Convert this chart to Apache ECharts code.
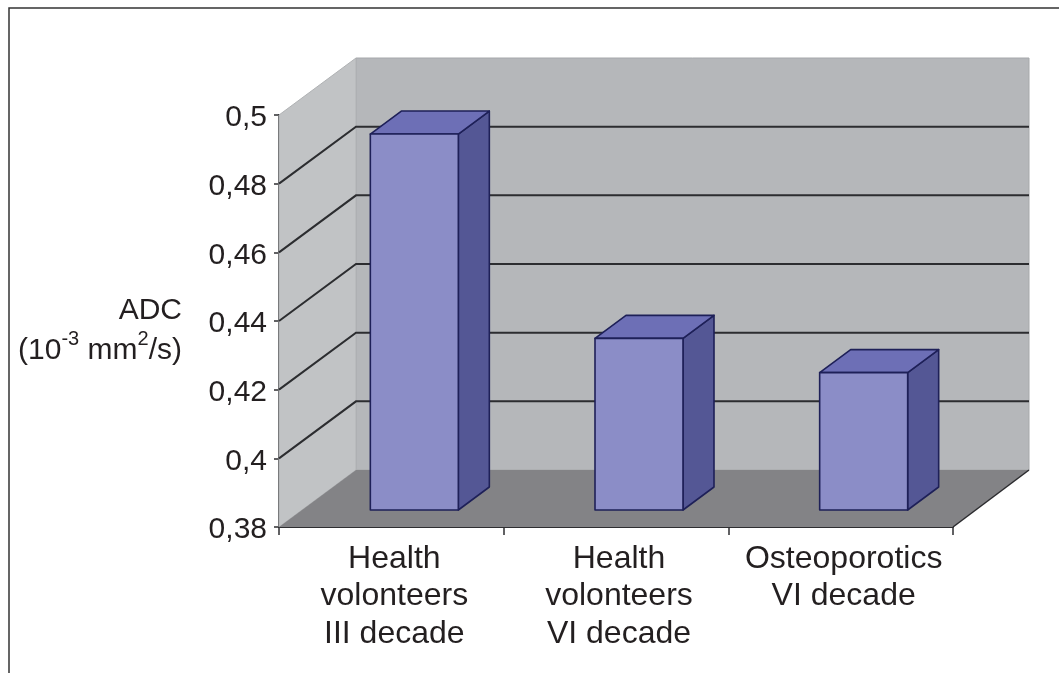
<!DOCTYPE html>
<html><head><meta charset="utf-8">
<style>html,body{margin:0;padding:0;background:#fff}#c{width:1059px;height:673px}</style>
<script src="https://cdn.jsdelivr.net/npm/echarts@6/dist/echarts.min.js"></script>
</head><body><div id="c"></div>
<script>
var categories = ['Health\nvolonteers\nIII decade', 'Health\nvolonteers\nVI decade', 'Osteoporotics\nVI decade'];
var values = [0.4895, 0.43, 0.42];
var axisMin = 0.38, axisMax = 0.5, axisStep = 0.02;
var wallTicks = [0.4, 0.42, 0.44, 0.46, 0.48];

var chart = echarts.init(document.getElementById('c'), null, {renderer: 'canvas'});
var DX = 77, DY = 57;          // chart depth in px
var BDX = 31, BDY = 23;        // bar depth in px
var OX = 23, OY = 17;          // bar offset from front plane
var BW = 88;                   // bar width
var edge = '#1e2058';

function renderWalls(params, api) {
  var cs = params.coordSys;
  var l = cs.x, r = cs.x + cs.width, t = cs.y, b = cs.y + cs.height;
  var kids = [
    {type: 'polygon', shape: {points: [[l + DX, t - DY], [r + DX - 1, t - DY], [r + DX - 1, b - DY], [l + DX, b - DY]]},
     style: {fill: '#b5b7ba', stroke: '#a6a8ab', lineWidth: 1}},
    {type: 'polygon', shape: {points: [[l, t], [l + DX, t - DY], [l + DX, b - DY], [l, b]]},
     style: {fill: '#c1c3c5', stroke: '#b0b2b4', lineWidth: 1}},
    {type: 'polygon', shape: {points: [[l, b], [l + DX, b - DY], [r + DX - 1, b - DY], [r, b]]},
     style: {fill: '#838386'}},
    {type: 'line', shape: {x1: r, y1: b, x2: r + DX - 1, y2: b - DY}, style: {stroke: '#2b2b2e', lineWidth: 1.5}}
  ];
  wallTicks.forEach(function (v) {
    var y = api.coord([0, v])[1];
    kids.push({type: 'polyline', shape: {points: [[l, y], [l + DX, y - DY], [r + DX - 1, y - DY]]},
      style: {fill: null, stroke: '#2c2d30', lineWidth: 2}});
  });
  return {type: 'group', children: kids};
}

function renderBar(params, api) {
  var c = api.value(0), v = api.value(1);
  var top = api.coord([c, v]), base = api.coord([c, axisMin]);
  var x0 = top[0] + OX - BW / 2, x1 = x0 + BW, y0 = top[1] - OY, y1 = base[1] - OY;
  var st = function (f) { return {fill: f, stroke: edge, lineWidth: 1.6, lineJoin: 'round'}; };
  return {type: 'group', children: [
    {type: 'polygon', shape: {points: [[x1, y0], [x1 + BDX, y0 - BDY], [x1 + BDX, y1 - BDY], [x1, y1]]}, style: st('#545795')},
    {type: 'polygon', shape: {points: [[x0, y0], [x0 + BDX, y0 - BDY], [x1 + BDX, y0 - BDY], [x1, y0]]}, style: st('#6d6fb6')},
    {type: 'polygon', shape: {points: [[x0, y0], [x1, y0], [x1, y1], [x0, y1]]}, style: st('#8b8dc7')}
  ]};
}

chart.setOption({
  animation: false,
  backgroundColor: '#fff',
  textStyle: {fontFamily: 'Liberation Sans'},
  grid: {left: 279, top: 115, width: 674, height: 412, containLabel: false},
  xAxis: {
    type: 'category', data: categories, boundaryGap: true,
    axisLine: {show: true, lineStyle: {color: '#2e2e31', width: 1.8}},
    axisTick: {show: true, length: 8, alignWithLabel: false, lineStyle: {color: '#2e2e31', width: 1.5}},
    axisLabel: {fontSize: 32, lineHeight: 37.5, color: '#231f20', margin: 13, interval: 0, padding: [0, 0, 0, 6]},
    splitLine: {show: false}
  },
  yAxis: {
    type: 'value', min: axisMin, max: axisMax, interval: axisStep,
    name: 'ADC\n{n|(10}{s|-3}{n| mm}{s|2}{n|/s)}',
    nameLocation: 'middle', nameRotate: 0, nameGap: 97,
    nameTextStyle: {
      align: 'right', verticalAlign: 'middle', fontSize: 30, lineHeight: 37, color: '#231f20',
      padding: [16, 0, 0, 0],
      rich: {
        n: {fontSize: 30, lineHeight: 37, color: '#231f20', verticalAlign: 'bottom'},
        s: {fontSize: 20, lineHeight: 37, color: '#231f20', verticalAlign: 'top', padding: [0, 0, 6, 0]}
      }
    },
    axisLine: {show: true, lineStyle: {color: '#2e2e31', width: 1.8}},
    axisTick: {show: true, length: 5, lineStyle: {color: '#2e2e31', width: 1.5}},
    axisLabel: {color: '#231f20', margin: 12,
      rich: {t: {fontSize: 30, color: '#231f20', padding: [6, 0, 0, 0]}},
      formatter: function (v) { return '{t|' + String(+v.toFixed(2)).replace('.', ',') + '}'; }},
    splitLine: {show: false}
  },
  graphic: [{type: 'polyline', silent: true, z: 10,
    shape: {points: [[9, 673], [9, 8], [1059, 8]]},
    style: {fill: null, stroke: '#333', lineWidth: 1.5}}],
  series: [
    {type: 'custom', name: 'walls', renderItem: renderWalls, data: [[0, axisMin]], silent: true, z: 1, clip: false},
    {type: 'custom', name: 'ADC', renderItem: renderBar, z: 3, clip: false,
     encode: {x: 0, y: 1},
     data: values.map(function (v, i) { return [i, v]; })}
  ]
});
</script></body></html>
